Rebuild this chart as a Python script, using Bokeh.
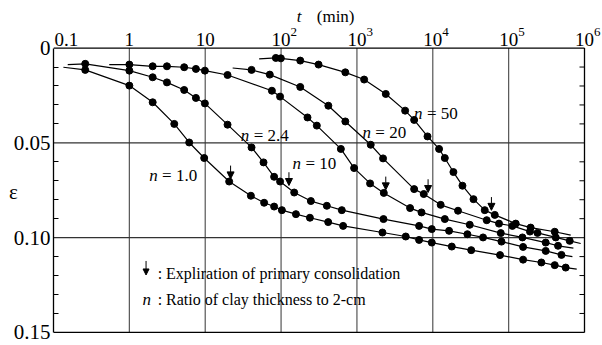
import math
from bokeh.plotting import figure
from bokeh.models import (Range1d, FixedTicker, Label, Arrow, NormalHead,
                          CustomJSTickFormatter)
from bokeh.embed import file_html
from bokeh.resources import INLINE

FONT = "Liberation Serif"

# ---------------- data ----------------
n_values = ["1.0", "2.4", "10", "20", "50"]

t_n1 = [0.262, 1.0, 2.03, 3.91, 6.15, 9.7, 20.7, 40, 59.8, 81, 102.5, 157, 240, 418, 658,
        2170, 4400, 6600, 9700, 17800, 32100, 77000, 155000, 270000, 405000, 565000]
e_n1 = [0.0115, 0.0198, 0.0286, 0.0400, 0.0498, 0.0580, 0.0704, 0.0779, 0.0816, 0.0836,
        0.0855, 0.0876, 0.0895, 0.0918, 0.0938, 0.0973, 0.0994, 0.1012, 0.1026, 0.1047,
        0.1066, 0.1092, 0.1116, 0.1131, 0.1145, 0.1158]

t_n24 = [0.262, 1.0, 2.03, 3.13, 5.28, 7.54, 9.9, 19.7, 40.8, 58.7, 81, 97, 149, 247, 401,
         632, 2240, 6600, 9700, 16400, 28600, 46000, 80400, 155000, 308000, 497000]
e_n24 = [0.0083, 0.0119, 0.0154, 0.0181, 0.0221, 0.0263, 0.0292, 0.0404, 0.0524, 0.0603,
         0.0679, 0.0704, 0.0762, 0.0807, 0.0832, 0.0855, 0.0902, 0.0938, 0.0955, 0.0964,
         0.0982, 0.0999, 0.1021, 0.1049, 0.1070, 0.1091]

t_n10 = [1.0, 2.03, 3.13, 5.28, 7.54, 9.9, 19.7, 75.7, 97, 223, 296, 614, 918, 1490, 2260,
         5020, 7100, 14400, 30700, 78700, 152000, 308000, 448000]
e_n10 = [0.0087, 0.0096, 0.0096, 0.0101, 0.0110, 0.0119, 0.0142, 0.0225, 0.0256, 0.0366,
         0.0409, 0.0532, 0.0633, 0.0714, 0.0764, 0.0844, 0.0867, 0.0902, 0.0932, 0.0976,
         0.0999, 0.1026, 0.1043]

t_n20 = [40.8, 71, 179, 420, 703, 1520, 2210, 5680, 7600, 12700, 21500, 51400, 74600,
         112000, 191000, 240000, 418000, 638000]
e_n20 = [0.0115, 0.0140, 0.0205, 0.0304, 0.0387, 0.0510, 0.0582, 0.0744, 0.0770, 0.0827,
         0.0858, 0.0908, 0.0926, 0.0938, 0.0968, 0.0975, 0.0999, 0.1017]

t_n50 = [85.3, 99.3, 179, 312, 703, 1245, 2400, 4320, 5680, 8520, 12100, 14400, 18700,
         24600, 34400, 48400, 65600, 124000, 195000, 405000]
e_n50 = [0.0052, 0.0054, 0.0066, 0.0087, 0.0128, 0.0166, 0.0242, 0.0330, 0.0379, 0.0466,
         0.0532, 0.0580, 0.0654, 0.0726, 0.0797, 0.0855, 0.0880, 0.0926, 0.0947, 0.0969]

# extent of each fitted curve (start and end of the drawn line)
line_t0 = [0.135, 0.154, 0.543, 23, 51.4]
line_e0 = [0.0101, 0.0087, 0.0087, 0.0105, 0.0057]
line_t1 = [790000, 693000, 714000, 891000, 658000]
line_e1 = [0.1166, 0.1100, 0.1055, 0.1031, 0.0987]

# expiration of primary consolidation
eop_t = [21.6, 127, 2400, 8670, 59300]
eop_eps = [0.0705, 0.0740, 0.0763, 0.0777, 0.0871]

# curve label anchors (left, baseline)
lab_t = [1.83, 29.5, 141.8, 1185, 5670]
lab_eps = [0.0674, 0.0462, 0.0609, 0.0445, 0.0344]

x_ticks = [0.1, 1, 10, 1e2, 1e3, 1e4, 1e5, 1e6]
x_tick_base = ["0.1", "1", "10", "10", "10", "10", "10", "10"]
x_tick_exp = ["", "", "", "2", "3", "4", "5", "6"]
x_grid = [1, 10, 1e2, 1e3, 1e4, 1e5]
y_ticks = [0.0, 0.05, 0.10, 0.15]
y_grid = [0.05, 0.10]
y_minor = [0.01, 0.02, 0.03, 0.04, 0.06, 0.07, 0.08, 0.09, 0.11, 0.12, 0.13, 0.14]

series_t = [t_n1, t_n24, t_n10, t_n20, t_n50]
series_e = [e_n1, e_n24, e_n10, e_n20, e_n50]

# ---------------- figure ----------------
# plot area extends past the box (top, right, bottom) so the top scale texts are not clipped;
# the box itself is drawn from the tick values.
p = figure(width=602, height=345, x_axis_type="log", title=None,
           x_range=Range1d(x_ticks[0], 1.727e6), y_range=Range1d(0.1569, -0.0251),
           output_backend="svg", toolbar_location=None, x_axis_location=None,
           min_border_left=53, min_border_right=0, min_border_top=0, min_border_bottom=0)
p.outline_line_color = None
p.background_fill_color = "white"
p.border_fill_color = "white"
p.xgrid.visible = False
p.ygrid.visible = False

x0, x1 = x_ticks[0], x_ticks[-1]
y0, y1 = y_ticks[0], y_ticks[-1]

# grid lines inside the box
p.segment(x0=x_grid, x1=x_grid, y0=[y0] * len(x_grid), y1=[y1] * len(x_grid),
          line_color="#555555", line_width=1.2)
p.segment(x0=[x0] * len(y_grid), x1=[x1] * len(y_grid), y0=y_grid, y1=y_grid,
          line_color="#333333", line_width=1.2)
# top, bottom and right edges of the box
p.segment(x0=[x0, x0, x1], x1=[x1, x1, x1], y0=[y0, y1, y0], y1=[y0, y1, y1],
          line_color="black", line_width=1.3)
# inward minor ticks on the right edge
p.ray(x=[x1] * len(y_minor), y=y_minor, length=5, length_units="screen", angle=math.pi,
      line_color="black", line_width=1)

yax = p.yaxis[0]
yax.bounds = (y0, y1)
yax.ticker = FixedTicker(ticks=y_ticks, minor_ticks=y_minor)
yax.formatter = CustomJSTickFormatter(code="return tick == 0 ? '0' : tick.toFixed(2);")
yax.major_tick_in = 0
yax.major_tick_out = 0
yax.minor_tick_in = 5
yax.minor_tick_out = 0
yax.minor_tick_line_color = "black"
yax.axis_line_color = "black"
yax.axis_line_width = 1.3
yax.major_label_text_font = FONT
yax.major_label_text_font_size = "21px"
yax.major_label_text_color = "black"
yax.major_label_standoff = 3
yax.axis_label = "\n\nε"
yax.axis_label_orientation = "horizontal"
yax.axis_label_text_font = FONT
yax.axis_label_text_font_style = "normal"
yax.axis_label_text_font_size = "21px"
yax.axis_label_text_color = "black"
yax.axis_label_text_line_height = 0.8
yax.axis_label_standoff = -7

# curves
for i in range(len(series_t)):
    lt = [line_t0[i]] + series_t[i] + [line_t1[i]]
    le = [line_e0[i]] + series_e[i] + [line_e1[i]]
    p.line(lt, le, line_color="black", line_width=1.2)
    p.scatter(series_t[i], series_e[i], size=7, color="black")

# arrows for end of primary consolidation
for t, e in zip(eop_t, eop_eps):
    p.add_layout(Arrow(x_start=t, y_start=e - 0.0085, x_end=t, y_end=e - 0.0015,
                       line_width=1, line_color="black",
                       end=NormalHead(size=7, fill_color="black", line_color="black", line_width=1)))

# curve labels
for t, e, nv in zip(lab_t, lab_eps, n_values):
    p.add_layout(Label(x=t, y=e, text="n", text_font=FONT, text_font_style="italic",
                       text_font_size="17px", text_baseline="alphabetic", text_color="black"))
    p.add_layout(Label(x=t, y=e, x_offset=12.8, text="= " + nv, text_font=FONT,
                       text_font_size="17px", text_baseline="alphabetic", text_color="black"))

# top time scale labels
for i, (tv, b, ex) in enumerate(zip(x_ticks, x_tick_base, x_tick_exp)):
    first = (i == 0)
    p.add_layout(Label(x=tv, y=-0.0043, x_offset=1 if first else 0,
                       text=b, text_font=FONT, text_font_size="19px",
                       text_align="left" if first else "center",
                       text_baseline="alphabetic", text_color="black"))
    if ex:
        p.add_layout(Label(x=tv, y=-0.0084, x_offset=9.5, text=ex,
                           text_font=FONT, text_font_size="13px", text_align="left",
                           text_baseline="alphabetic", text_color="black"))

# axis title
p.add_layout(Label(x=161, y=-0.0169, text="t", text_font=FONT, text_font_style="italic",
                   text_font_size="17px", text_baseline="alphabetic", text_color="black"))
p.add_layout(Label(x=161, y=-0.0169, x_offset=20, text="(min)", text_font=FONT,
                   text_font_size="17px", text_baseline="alphabetic", text_color="black"))

# legend notes
p.add_layout(Arrow(x_start=1.66, y_start=0.1123, x_end=1.66, y_end=0.1197,
                   line_width=1, line_color="black",
                   end=NormalHead(size=6, fill_color="black", line_color="black", line_width=1)))
p.add_layout(Label(x=2.36, y=0.1190, text=": Expliration of primary consolidation",
                   text_font=FONT, text_font_size="16px", text_baseline="alphabetic",
                   text_color="black"))
p.add_layout(Label(x=1.488, y=0.1325, text="n", text_font=FONT, text_font_style="italic",
                   text_font_size="17px", text_baseline="alphabetic", text_color="black"))
p.add_layout(Label(x=2.36, y=0.1325, text=": Ratio of clay thickness to 2-cm",
                   text_font=FONT, text_font_size="16px", text_baseline="alphabetic",
                   text_color="black"))

open("out.html", "w").write(file_html(p, INLINE))
